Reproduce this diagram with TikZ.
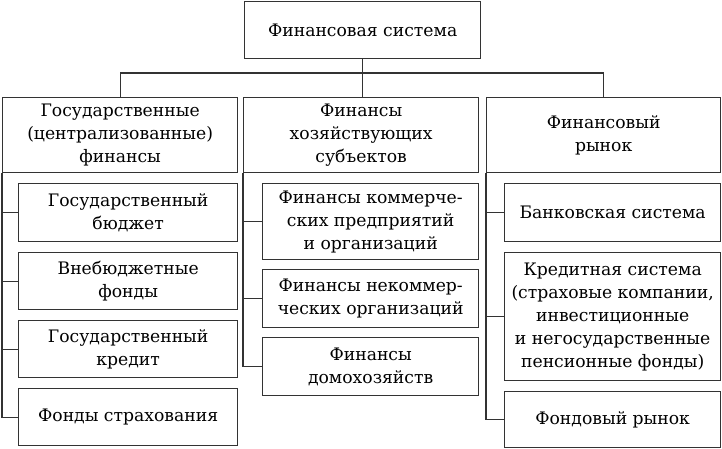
\documentclass[tikz,border=0pt]{standalone}
\usepackage{fontspec}
\setmainfont{DejaVu Serif}
\begin{document}
\begin{tikzpicture}[x=1pt,y=1pt,
    box/.style={draw=black!80, line width=1.3pt, anchor=north west, align=center,
      inner sep=0pt, font=\fontsize{17.2}{23}\selectfont},
    link/.style={draw=black!80, line width=1.3pt}]
  \useasboundingbox (0,0) rectangle (722,-449);
  % top level
  \node[box, minimum width=236, minimum height=57] (fs) at (244,-1) {Финансовая система};
  % second level
  \node[box, minimum width=235, minimum height=75] (gf) at (2,-97) {Государственные\\(централизованные)\\финансы};
  \node[box, minimum width=235, minimum height=75] (hs) at (243,-97) {Финансы\\хозяйствующих\\субъектов};
  \node[box, minimum width=234, minimum height=75] (fr) at (486,-97) {Финансовый\\рынок};
  % left column
  \node[box, minimum width=219, minimum height=58] (g1) at (18,-183) {Государственный\\бюджет};
  \node[box, minimum width=219, minimum height=57] (g2) at (18,-252) {Внебюджетные\\фонды};
  \node[box, minimum width=219, minimum height=57] (g3) at (18,-320) {Государственный\\кредит};
  \node[box, minimum width=219, minimum height=57] (g4) at (18,-388) {Фонды страхования};
  % middle column
  \node[box, minimum width=216, minimum height=76] (h1) at (262,-183) {Финансы коммерче-\\ских предприятий\\и организаций};
  \node[box, minimum width=216, minimum height=58] (h2) at (262,-269) {Финансы некоммер-\\ческих организаций};
  \node[box, minimum width=216, minimum height=58] (h3) at (262,-337) {Финансы\\домохозяйств};
  % right column
  \node[box, minimum width=216, minimum height=58] (r1) at (504,-183) {Банковская система};
  \node[box, minimum width=216, minimum height=128] (r2) at (504,-252) {Кредитная система\\(страховые компании,\\инвестиционные\\и негосударственные\\пенсионные фонды)};
  \node[box, minimum width=216, minimum height=56] (r3) at (504,-391) {Фондовый рынок};
  % connectors
  \coordinate (bus) at (0,-73);
  \draw[link] (fs.south) -- (fs.south |- hs.north);
  \draw[link] (gf.north) -- (gf.north |- bus) -- (fr.north |- bus) -- (fr.north);
  \draw[link] (gf.south west) |- (g4.west);
  \foreach \n in {g1,g2,g3}
    \draw[link] (gf.south west |- \n.west) -- (\n.west);
  \draw[link] (hs.south west) |- (h3.west);
  \foreach \n in {h1,h2}
    \draw[link] (hs.south west |- \n.west) -- (\n.west);
  \draw[link] (fr.south west) |- (r3.west);
  \foreach \n in {r1,r2}
    \draw[link] (fr.south west |- \n.west) -- (\n.west);
\end{tikzpicture}
\end{document}
